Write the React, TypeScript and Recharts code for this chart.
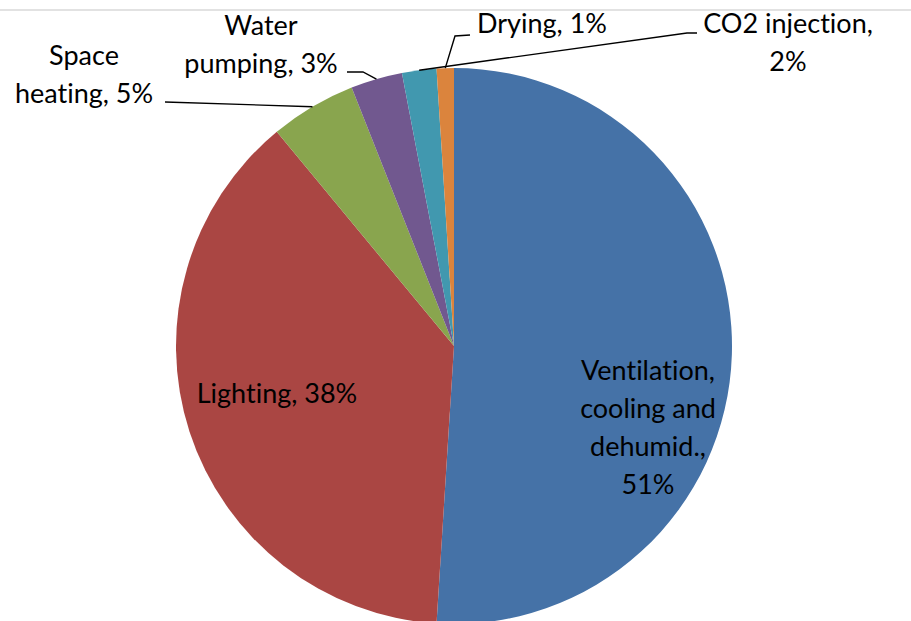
import React from 'react'
import { PieChart, Pie, Cell } from 'recharts'

const categories = [
  'Ventilation, cooling and dehumid.',
  'Lighting',
  'Space heating',
  'Water pumping',
  'CO2 injection',
  'Drying',
]
const shares = [51, 38, 5, 3, 2, 1]
const labelLines = [
  ['Ventilation,', 'cooling and', 'dehumid.,', '51%'],
  ['Lighting, 38%'],
  ['Space', 'heating, 5%'],
  ['Water', 'pumping, 3%'],
  ['CO2 injection,', '2%'],
  ['Drying, 1%'],
]
const colors = ['#4572A7', '#AA4643', '#89A54E', '#71588F', '#4198AF', '#DB843D']

// label placement relative to the pie centre: text centre x, first baseline y,
// and the leader line points from the slice edge towards the text
const layout = [
  { x: 194, y: 34, leader: [] as number[][] },
  { x: -177, y: 57, leader: [] as number[][] },
  { x: -370, y: -281, leader: [[-289, -244]] },
  { x: -193, y: -311, leader: [[-91, -274], [-107, -274]] },
  { x: 334, y: -313, leader: [[233, -313], [243, -313]] },
  { x: 88, y: -313, leader: [[1, -310], [16, -311]] },
]

const data = categories.map((name, i) => ({ name, value: shares[i] }))

const RAD = Math.PI / 180
const LINE_H = 38

function renderLabel(props: any) {
  const { cx, cy, midAngle, outerRadius, index } = props
  const l = layout[index]
  const ex = cx + outerRadius * Math.cos(-midAngle * RAD)
  const ey = cy + outerRadius * Math.sin(-midAngle * RAD)
  const pts = [[ex, ey], ...l.leader.map(([px, py]) => [cx + px, cy + py])]
  return (
    <g key={'lbl' + index}>
      {l.leader.length > 0 && (
        <polyline
          points={pts.map((p) => p.join(',')).join(' ')}
          fill="none"
          stroke="#000"
          strokeWidth={1.4}
        />
      )}
      <text
        x={cx + l.x}
        y={cy + l.y}
        textAnchor="middle"
        fill="#000"
        fontSize={27}
        fontFamily="Lato, 'Open Sans', sans-serif"
        style={{ fontVariantLigatures: 'none' }}
      >
        {labelLines[index].map((t, j) => (
          <tspan key={j} x={cx + l.x} dy={j === 0 ? 0 : LINE_H}>
            {t}
          </tspan>
        ))}
      </text>
    </g>
  )
}

export default function App() {
  return (
    <div style={{ position: 'absolute', left: 0, top: 0, width: 911, height: 621, background: '#fff', overflow: 'hidden' }}>
      <div style={{ position: 'absolute', left: 0, top: 9, width: 911, height: 0, borderTop: '2px solid #e2e2e2' }} />
      <PieChart width={911} height={621} margin={{ top: 0, right: 0, bottom: 0, left: 0 }}>
        <Pie
          data={data}
          dataKey="value"
          nameKey="name"
          cx={454}
          cy={346}
          outerRadius={278}
          startAngle={90}
          endAngle={-270}
          stroke="none"
          label={renderLabel}
          labelLine={false}
          isAnimationActive={false}
        >
          {data.map((d, i) => (
            <Cell key={d.name} fill={colors[i]} />
          ))}
        </Pie>
      </PieChart>
    </div>
  )
}
